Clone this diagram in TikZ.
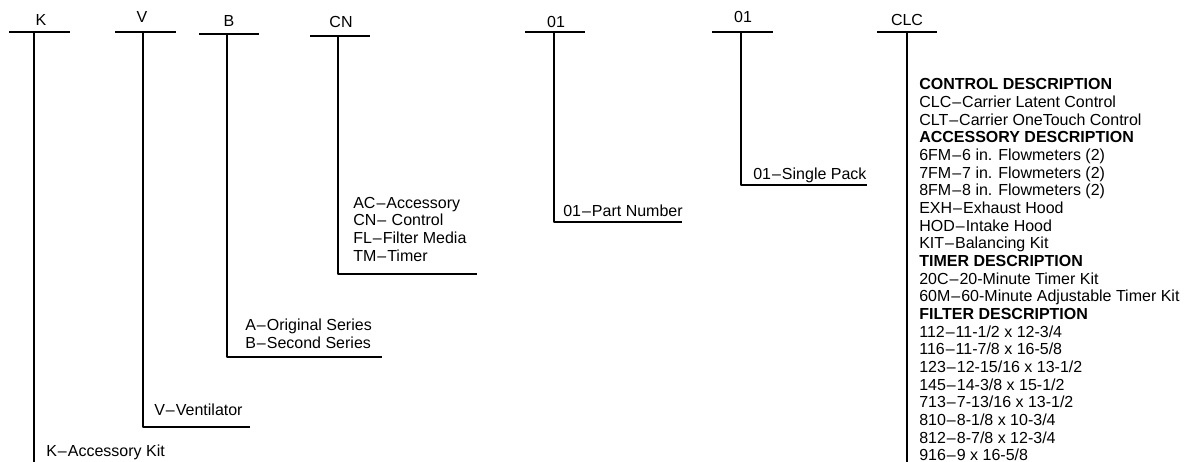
\documentclass[tikz,border=0pt]{standalone}
\usepackage{fontspec}
\setmainfont{Liberation Sans}
\newcommand\dd{\kern1pt--\kern1pt}
\begin{document}
\begin{tikzpicture}[x=1pt,y=-1pt,line join=round,line width=2.6pt,font=\fontsize{16}{17.65}\selectfont]
\tikzset{code/.style={anchor=base,inner sep=0pt},
	item/.style={anchor=base west,inner sep=0pt}}
\useasboundingbox (0,0) rectangle (1184,462);
% ma so tren cung
\foreach \n/\x/\y/\t in {kit/41/26/K,vent/142/23/V,ser/229/27/B,typ/341/28/CN,part/556/28/01,pack/743/23/01,desc/907/26/CLC}
	{\node[code] (\n) at (\x,\y) {\t};}
% thanh ngang, than doc, chan
\foreach \l/\r/\y/\s/\b/\f in {9/70/32/34/462/34,115/176/32/143/427/250,199/259/34/227/357/382,310/370/36/338/274/477,525/585/32/554/222/682,712/773/32/741/185/867,877/937/32/907/462/907}
	{\draw (\l,\y)--(\r,\y) (\s,\y)--(\s,\b)--(\f,\b);}
% chu giai
\node[item] (kit1) at (45,456) {K\dd Accessory Kit};
\node[item] (vent1) at (153,415.5) {V\dd Ventilator};
\foreach \t [count=\i] in {A\dd Original Series,B\dd Second Series}
	{\node[item] (ser\i) at (244,{312.9+\i*17.65}) {\t};}
\foreach \t [count=\i] in {AC\dd Accessory,CN\dd{} Control,FL\dd Filter Media,TM\dd Timer}
	{\node[item] (typ\i) at (352,{190.6+\i*17.65}) {\t};}
\node[item] (part1) at (562,217) {01\dd Part Number};
\node[item] (pack1) at (752,179.5) {01\dd Single Pack};
\foreach \t [count=\i] in {\textbf{CONTROL DESCRIPTION},CLC\dd Carrier Latent Control,CLT\dd Carrier OneTouch Control,
	\textbf{ACCESSORY DESCRIPTION},6FM\dd 6 in. Flowmeters (2),7FM\dd 7 in. Flowmeters (2),8FM\dd 8 in. Flowmeters (2),
	EXH\dd Exhaust Hood,HOD\dd Intake Hood,KIT\dd Balancing Kit,\textbf{TIMER DESCRIPTION},20C\dd 20-Minute Timer Kit,
	60M\dd 60-Minute Adjustable Timer Kit,\textbf{FILTER DESCRIPTION},112\dd 11-1/2 x 12-3/4,116\dd 11-7/8 x 16-5/8,
	123\dd 12-15/16 x 13-1/2,145\dd 14-3/8 x 15-1/2,713\dd 7-13/16 x 13-1/2,810\dd 8-1/8 x 10-3/4,812\dd 8-7/8 x 12-3/4,916\dd 9 x 16-5/8}
	{\node[item] (desc\i) at (918,{72.35+\i*17.65}) {\t};}
\end{tikzpicture}
\end{document}
